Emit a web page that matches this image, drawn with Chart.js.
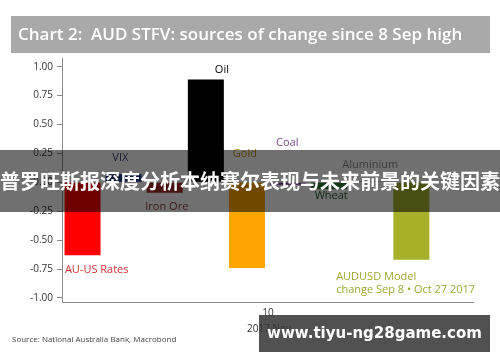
<!DOCTYPE html>
<html lang="en">
<head>
<meta charset="UTF-8">
<title>AUD STFV</title>
<script src="https://cdn.jsdelivr.net/npm/chart.js"></script>
<style>
  html, body { margin: 0; padding: 0; background: #fff; }
  .wrap { position: relative; width: 500px; height: 362px; }
  #audChart { position: absolute; left: 0; top: 0; }
  /* overlay banner */
  .banner {
    position: absolute; left: 0; top: 150px; width: 500px; height: 62px;
    background: rgba(0, 0, 0, 0.56); color: #fff;
    font: bold 20px "Noto Sans CJK SC", sans-serif;
    line-height: 62px; text-align: center; white-space: nowrap; overflow: hidden;
  }
  .mark {
    position: absolute; left: 259px; top: 315px; width: 231px; height: 37px;
    background: rgba(50, 50, 50, 0.85); color: #fff;
    font: bold 15px "DejaVu Sans", sans-serif;
    line-height: 37px; text-align: center; white-space: nowrap;
  }
</style>
</head>
<body>
<div class="wrap">
  <canvas id="audChart" width="500" height="362"></canvas>
  <div class="banner">普罗旺斯报深度分析本纳赛尔表现与未来前景的关键因素</div>
  <div class="mark">www.tiyu-ng28game.com</div>
</div>

<script>
  // data
  const categories = ['AU-US Rates', 'VIX', 'Iron Ore', 'Oil', 'Gold', 'Coal', 'Wheat', 'Aluminium', 'AUDUSD Model', ''];
  const values = [-0.63, 0.07, -0.09, 0.89, -0.74, -0.02, -0.06, 0.01, -0.67, null];
  const yTicks = [1.00, 0.75, 0.50, 0.25, 0.00, -0.25, -0.50, -0.75, -1.00];
  const barColors = ['#ff0000', '#1f3c88', '#a52a2a', '#000000', '#ffa500', '#7f3f98', '#2e7d32', '#9a9a9a', '#a6b129', '#ffffff'];

  // bar labels: [text, category position, value position, colour, align]
  const notes = [
    ['Oil', 3.39, 0.97, '#000000', 'center'],
    ['Coal', 4.98, 0.34, '#7b4a8f', 'center'],
    ['Gold', 3.95, 0.245, '#b8860b', 'center'],
    ['VIX', 0.92, 0.21, '#2f3f6f', 'center'],
    ['Aluminium', 7.0, 0.15, '#8a8a8a', 'center'],
    ['Wheat', 6.05, -0.12, '#1f5f2f', 'center'],
    ['Iron Ore', 2.05, -0.21, '#8b3a3a', 'center'],
    ['AU-US Rates', -0.43, -0.76, '#d03030', 'left'],
    ['AUDUSD Model', 6.17, -0.82, '#9aaa30', 'left'],
    ['change Sep 8 \u2022 Oct 27 2017', 6.17, -0.93, '#9aaa30', 'left']
  ];

  const extras = {
    id: 'extras',
    afterDraw(chart) {
      const c = chart.ctx;
      const x = chart.scales.x, y = chart.scales.y;
      c.save();
      // title box
      c.fillStyle = '#a9a9a9';
      c.fillRect(11, 16, 479, 37);
      c.fillStyle = '#ffffff';
      c.font = '600 17px "Open Sans"';
      c.textBaseline = 'middle';
      c.textAlign = 'left';
      c.fillText('Chart 2:  AUD STFV: sources of change since 8 Sep high', 18, 35);

      c.font = '11px "Open Sans"';
      notes.forEach(n => {
        c.fillStyle = n[3];
        c.textAlign = n[4];
        c.fillText(n[0], x.getPixelForValue(n[1]), y.getPixelForValue(n[2]));
      });

      // date axis text
      c.fillStyle = '#333';
      c.textAlign = 'center';
      c.font = '10px "Open Sans"';
      c.fillText('10', 268, 313);
      c.fillText('2017 Nov', 269, 329);

      c.textAlign = 'left';
      c.font = '8px "Open Sans"';
      c.fillStyle = '#444';
      c.fillText('Source: National Australia Bank, Macrobond', 12, 340);
      c.restore();
    }
  };

  const ctx = document.getElementById('audChart');
  const audChart = new Chart(ctx, {
    type: 'bar',
    data: {
      labels: categories,
      datasets: [{
        data: values,
        backgroundColor: barColors,
        borderWidth: 0,
        categoryPercentage: 1,
        barPercentage: 0.876
      }]
    },
    options: {
      responsive: false,
      animation: false,
      layout: { padding: { left: 0, right: 27, top: 58, bottom: 60 } },
      plugins: { legend: { display: false }, tooltip: { enabled: false } },
      scales: {
        x: {
          ticks: { display: false },
          grid: { display: false },
          border: { display: true, color: '#8c8c8c', width: 1 },
          afterFit(scale) { scale.height = 0; }
        },
        y: {
          min: -1.035,
          max: 1.075,
          afterBuildTicks(scale) { scale.ticks = yTicks.map(v => ({ value: v })); },
          afterFit(scale) { scale.width = 62; },
          ticks: {
            color: '#333',
            font: { size: 10, family: '"Open Sans"' },
            padding: 4,
            callback: v => v.toFixed(2)
          },
          grid: { drawOnChartArea: false, tickLength: 5, color: '#8c8c8c' },
          border: { display: true, color: '#8c8c8c', width: 1 }
        }
      }
    },
    plugins: [extras]
  });
</script>
</body>
</html>
